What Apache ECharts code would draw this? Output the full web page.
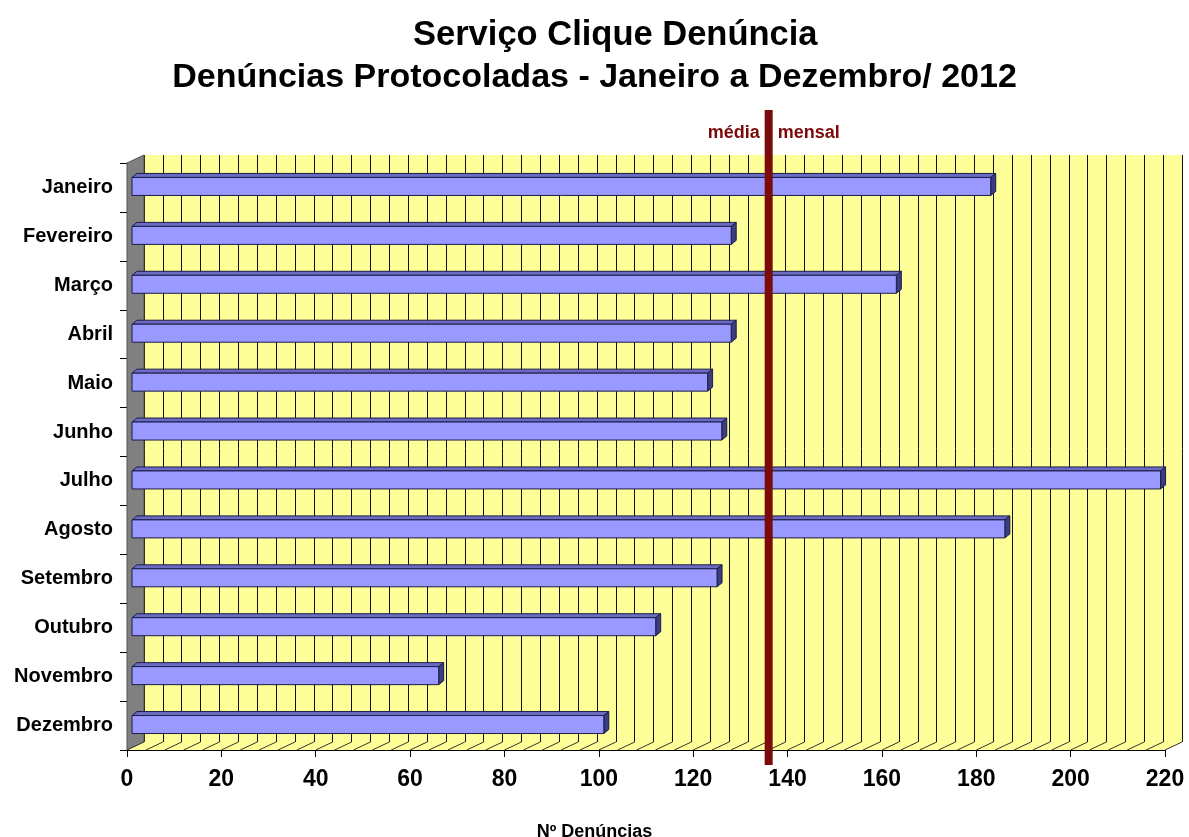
<!DOCTYPE html>
<html>
<head>
<meta charset="utf-8">
<script src="https://cdn.jsdelivr.net/npm/echarts@6/dist/echarts.min.js"></script>
<style>
  html, body { margin: 0; padding: 0; background: #fff; }
  #chart { width: 1189px; height: 837px; }
</style>
</head>
<body>
<div id="chart"></div>
<script>
// dados
const meses = ['Janeiro', 'Fevereiro', 'Março', 'Abril', 'Maio', 'Junho',
  'Julho', 'Agosto', 'Setembro', 'Outubro', 'Novembro', 'Dezembro'];
const denuncias = [182, 127, 162, 127, 122, 125, 218, 185, 124, 111, 65, 100];
const mediaMensal = [136];
const eixoX = { min: 0, max: 220, interval: 20, passoGrade: 4 };

const FONTE = '"Liberation Sans", Arial, sans-serif';
// profundidade do efeito 3D (parede do fundo e barras)
const DX = 17, DY = -8;
const BDX = 5, BDY = -4;

const chartDom = document.getElementById('chart');
const myChart = echarts.init(chartDom);

// parede esquerda e piso com hachuras
const renderPiso = function (params, api) {
  const cs = params.coordSys;
  const left = cs.x, right = cs.x + cs.width;
  const top = cs.y, bottom = cs.y + cs.height;
  const children = [
    {
      type: 'polygon',
      shape: { points: [[left, top], [left + DX, top + DY], [left + DX, bottom + DY], [left, bottom]] },
      style: { fill: '#808080', stroke: '#555', lineWidth: 1 }
    },
    {
      type: 'polygon',
      shape: { points: [[left, bottom], [right, bottom], [right + DX, bottom + DY], [left + DX, bottom + DY]] },
      style: { fill: '#ffff99', stroke: null }
    }
  ];
  for (let v = eixoX.min; v <= eixoX.max; v += eixoX.passoGrade) {
    const x = api.coord([v, 0])[0];
    children.push({
      type: 'line',
      shape: { x1: x, y1: bottom, x2: x + DX, y2: bottom + DY },
      style: { stroke: '#333', lineWidth: 1 }
    });
  }
  return { type: 'group', children: children };
};

// barras com face frontal, topo e lateral
const renderBarra = function (params, api) {
  const val = api.value(0);
  const cat = api.value(1);
  const p0 = api.coord([0, cat]);
  const p1 = api.coord([val, cat]);
  const x0 = p0[0] + 5, x1 = p1[0] + 5;
  const h = 18;
  const yc = p0[1] - 1;
  const yt = yc - h / 2, yb = yc + h / 2;
  const borda = '#1c1c48';
  return {
    type: 'group',
    children: [
      {
        type: 'polygon',
        shape: { points: [[x0, yt], [x1, yt], [x1 + BDX, yt + BDY], [x0 + BDX, yt + BDY]] },
        style: { fill: '#6b6bc4', stroke: borda, lineWidth: 1 }
      },
      {
        type: 'polygon',
        shape: { points: [[x1, yt], [x1 + BDX, yt + BDY], [x1 + BDX, yb + BDY], [x1, yb]] },
        style: { fill: '#3c3c80', stroke: borda, lineWidth: 1 }
      },
      {
        type: 'rect',
        shape: { x: x0, y: yt, width: x1 - x0, height: h },
        style: { fill: '#9999ff', stroke: borda, lineWidth: 1 }
      }
    ]
  };
};

// linha da média mensal
const renderMedia = function (params, api) {
  const x = api.coord([api.value(0), 0])[0];
  const cor = '#7b0a0a';
  return {
    type: 'group',
    children: [
      { type: 'rect', shape: { x: x - 4, y: 110, width: 8, height: 655 }, style: { fill: cor } },
      {
        type: 'text',
        style: { text: 'média', x: x - 9, y: 133, align: 'right', verticalAlign: 'middle',
          fill: cor, font: 'bold 18px ' + FONTE }
      },
      {
        type: 'text',
        style: { text: 'mensal', x: x + 9, y: 133, align: 'left', verticalAlign: 'middle',
          fill: cor, font: 'bold 18px ' + FONTE }
      }
    ]
  };
};

const option = {
  backgroundColor: '#fff',
  animation: false,
  title: [
    {
      text: 'Serviço Clique Denúncia',
      left: 408,
      top: 13,
      textStyle: { fontFamily: FONTE, fontSize: 34.5, fontWeight: 'bold', color: '#000' }
    },
    {
      text: 'Denúncias Protocoladas - Janeiro a Dezembro/ 2012',
      left: 'center',
      top: 56,
      textStyle: { fontFamily: FONTE, fontSize: 34, fontWeight: 'bold', color: '#000' }
    },
    {
      text: 'Nº Denúncias',
      left: 'center',
      top: 818,
      textStyle: { fontFamily: FONTE, fontSize: 18, fontWeight: 'bold', color: '#000' }
    }
  ],
  grid: [
    { left: 127, right: 24, top: 163, bottom: 87 },
    { left: 144, right: 7, top: 155, bottom: 95, show: true, backgroundColor: '#ffff99', borderWidth: 0 }
  ],
  xAxis: [
    {
      type: 'value',
      gridIndex: 0,
      min: eixoX.min,
      max: eixoX.max,
      interval: eixoX.interval,
      axisLine: { show: true, lineStyle: { color: '#000', width: 1 } },
      axisTick: { show: true, length: 7, lineStyle: { color: '#000' } },
      axisLabel: { fontFamily: FONTE, fontSize: 23, fontWeight: 'bold', color: '#000', margin: 18 },
      splitLine: { show: false }
    },
    {
      type: 'value',
      gridIndex: 1,
      min: eixoX.min,
      max: eixoX.max,
      interval: eixoX.passoGrade,
      axisLine: { show: false },
      axisTick: { show: false },
      axisLabel: { show: false },
      splitLine: { show: true, lineStyle: { color: '#111', width: 1 } }
    }
  ],
  yAxis: [
    {
      type: 'category',
      gridIndex: 0,
      data: meses,
      inverse: true,
      axisLine: { show: true, lineStyle: { color: '#000', width: 1 } },
      axisTick: { show: true, length: 7, lineStyle: { color: '#000' } },
      axisLabel: { fontFamily: FONTE, fontSize: 20, fontWeight: 'bold', color: '#000', margin: 14 },
      splitLine: { show: false }
    },
    {
      type: 'value',
      gridIndex: 1,
      show: false,
      splitLine: { show: false }
    }
  ],
  series: [
    {
      type: 'custom',
      name: 'piso',
      xAxisIndex: 0,
      yAxisIndex: 0,
      renderItem: renderPiso,
      data: [[0, meses[0]]],
      encode: { x: 0, y: 1 },
      clip: false,
      silent: true,
      z: 1
    },
    {
      type: 'custom',
      name: 'Denúncias',
      xAxisIndex: 0,
      yAxisIndex: 0,
      renderItem: renderBarra,
      data: denuncias.map((v, i) => [v, meses[i]]),
      encode: { x: 0, y: 1 },
      clip: false,
      z: 3
    },
    {
      type: 'custom',
      name: 'média mensal',
      xAxisIndex: 0,
      yAxisIndex: 0,
      renderItem: renderMedia,
      data: mediaMensal.map(v => [v, meses[0]]),
      encode: { x: 0, y: 1 },
      clip: false,
      silent: true,
      z: 5
    }
  ]
};

myChart.setOption(option);
</script>
</body>
</html>
